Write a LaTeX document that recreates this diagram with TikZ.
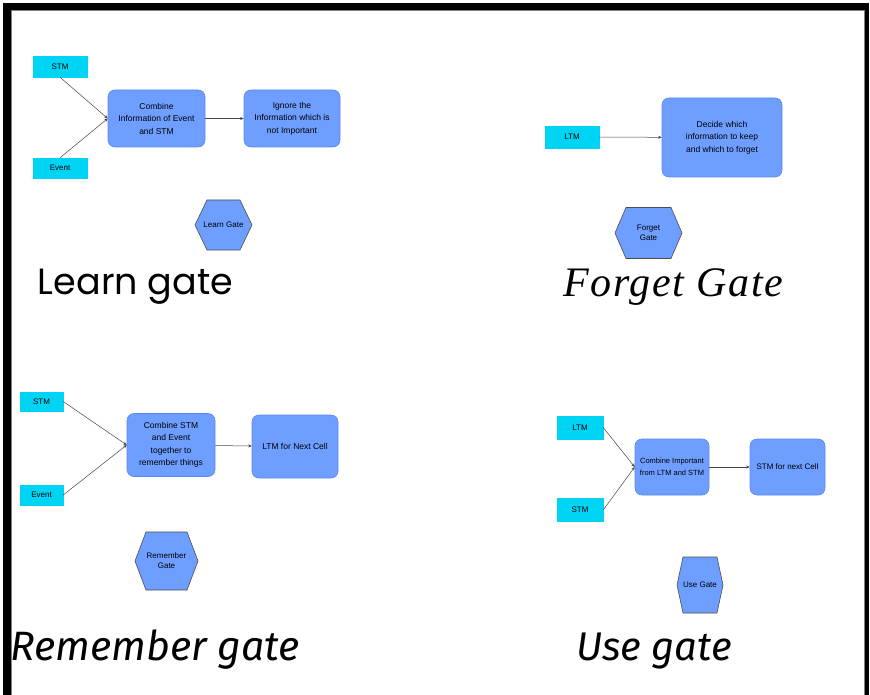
\documentclass[tikz,border=0pt]{standalone}
\usepackage{fontspec}
\usetikzlibrary{arrows.meta}
\setmainfont{Liberation Sans}
\newfontfamily\headsans{Poppins}
\newfontfamily\headital{Fira Sans}
\newfontfamily\headserif{Liberation Serif}

\definecolor{inputcyan}{RGB}{0,212,245}
\definecolor{procblue}{RGB}{110,158,255}
\definecolor{procedge}{RGB}{88,136,238}
\definecolor{conngray}{RGB}{70,70,70}

\tikzset{
  inbox/.style={fill=inputcyan, draw=inputcyan, inner sep=0pt, align=center,
    font=\fontsize{8}{9.5}\selectfont},
  procbox/.style={fill=procblue, draw=procedge, line width=0.6pt, rounded corners=7pt,
    inner sep=1pt, align=center, font=\fontsize{8.5}{12.5}\selectfont},
  conn/.style={draw=conngray, line width=0.5pt, -{Stealth[length=3.5pt,width=3pt]}},
  hexshape/.style={fill=procblue, draw=black!70, line width=0.6pt},
  hextext/.style={inner sep=0pt, align=center, font=\fontsize{8}{10}\selectfont},
}

% gate badge: name, centre x, centre y, half width, half height, corner inset, label
\newcommand\gatehex[7]{%
  \draw[hexshape] (#2-#4,#3) -- (#2-#4+#6,#3-#5) -- (#2+#4-#6,#3-#5) -- (#2+#4,#3)
    -- (#2+#4-#6,#3+#5) -- (#2-#4+#6,#3+#5) -- cycle;
  \node[hextext] (#1) at (#2,#3) {#7};%
}

\begin{document}
\begin{tikzpicture}[x=1pt,y=-1pt]
\useasboundingbox (0,0) rectangle (870,695);
\fill[white] (0,0) rectangle (870,695);

% outer frame
\fill[black] (3,3) rectangle (868,10);
\fill[black] (3,3) rectangle (11,695);
\fill[black] (865,3) rectangle (868.5,695);
\draw[gray, line width=0.6pt] (11.5,695) -- (11.5,10.5) -- (864.5,10.5) -- (864.5,695);

% ---------------- Learn gate ----------------
\node[inbox, minimum width=54pt, minimum height=21pt] (lstm) at (60,66.5) {STM};
\node[inbox, minimum width=54pt, minimum height=20pt] (levent) at (60,168) {Event};
\node[procbox, minimum width=97pt, minimum height=57pt] (lcomb) at (156.5,118.5)
  {Combine\\Information of Event\\and STM};
\node[procbox, minimum width=96pt, minimum height=57pt] (lign) at (292,118.5)
  {Ignore the\\Information which is\\not Important};
\draw[conn] (lstm.south) -- (lcomb.west);
\draw[conn] (levent.north) -- (lcomb.west);
\draw[conn] (lcomb) -- (lign);
\gatehex{lhex}{223.5}{225}{28.5}{25}{12}{Learn Gate}
\node[anchor=base, inner sep=0pt, font=\headsans\fontsize{36.5}{40}\selectfont] (ltitle)
  at (135.5,294) {Learn gate};

% ---------------- Forget gate ----------------
\node[inbox, minimum width=54pt, minimum height=22pt] (fltm) at (572,137) {LTM};
\node[procbox, minimum width=120pt, minimum height=79pt] (fdec) at (722,137.5)
  {Decide which\\information to keep\\and which to forget};
\draw[conn] (fltm) -- (fdec);
\gatehex{fhex}{648.5}{233}{33.5}{25.5}{11}{Forget\\Gate}
\node[anchor=base, inner sep=0pt, font=\headserif\itshape\fontsize{42}{46}\selectfont] (ftitle)
  at (673.5,296) {\addfontfeatures{LetterSpace=4}Forget Gate};

% ---------------- Remember gate ----------------
\node[inbox, minimum width=43pt, minimum height=19pt] (rstm) at (41.5,401.5) {STM};
\node[inbox, minimum width=43pt, minimum height=20pt] (revent) at (41.5,495) {Event};
\node[procbox, minimum width=88pt, minimum height=63pt] (rcomb) at (171,445)
  {Combine STM\\and Event\\together to\\remember things};
\node[procbox, minimum width=86pt, minimum height=63pt] (rltm) at (295,446.5)
  {LTM for Next Cell};
\draw[conn] (rstm.east) -- (rcomb.west);
\draw[conn] (revent.east) -- (rcomb.west);
\draw[conn] (rcomb) -- (rltm);
\gatehex{rhex}{166.5}{561}{31.5}{29}{11}{Remember\\Gate}
\node[anchor=base, inner sep=0pt, font=\headital\itshape\fontsize{41}{44}\selectfont] (rtitle)
  at (155,660) {Remember gate};

% ---------------- Use gate ----------------
\node[inbox, minimum width=46pt, minimum height=23pt] (ultm) at (580,427.5) {LTM};
\node[inbox, minimum width=46pt, minimum height=23pt] (ustm) at (580,510) {STM};
\node[procbox, minimum width=74pt, minimum height=56pt, inner sep=0pt,
  font=\fontsize{7.5}{12.5}\selectfont] (ucomb) at (672,467)
  {Combine Important\\from LTM and STM};
\node[procbox, minimum width=75pt, minimum height=56pt, font=\fontsize{8}{12}\selectfont]
  (unext) at (787.5,467) {STM for next Cell};
\draw[conn] (ultm.east) -- (ucomb.west);
\draw[conn] (ustm.east) -- (ucomb.west);
\draw[conn] (ucomb) -- (unext);
\gatehex{uhex}{700}{585}{23}{28}{6}{Use Gate}
\node[anchor=base, inner sep=0pt, font=\headital\itshape\fontsize{40}{44}\selectfont] (utitle)
  at (654,660) {Use gate};
\end{tikzpicture}
\end{document}
